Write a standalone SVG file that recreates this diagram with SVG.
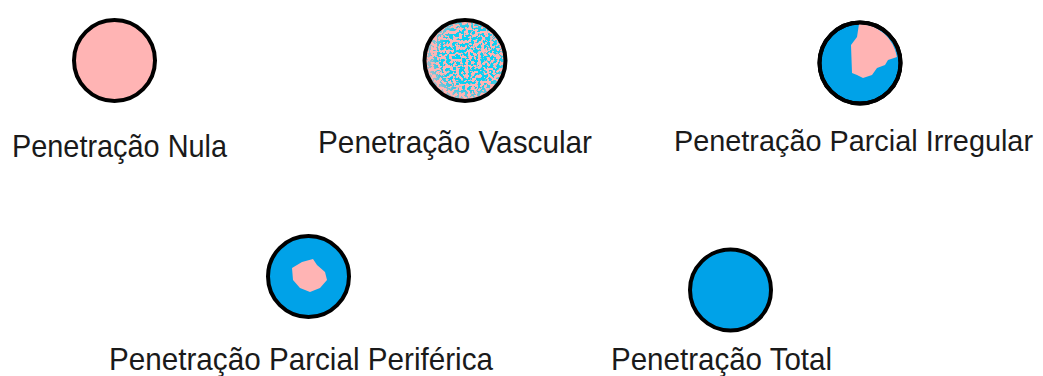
<svg xmlns="http://www.w3.org/2000/svg" width="1043" height="376" viewBox="0 0 1043 376">
<defs>
<style>
.ring{stroke:#000;stroke-width:4}
.pink{fill:#FFB4B4}
.blue{fill:#00A2E8}
.lbl{font-family:"Liberation Sans",Arial,sans-serif;font-size:32px;fill:#1a1a1a}
</style>
<filter id="speckle" x="0" y="0" width="1" height="1" filterUnits="objectBoundingBox">
<feTurbulence type="fractalNoise" baseFrequency="0.32" numOctaves="2" seed="11" result="n"/>
<feColorMatrix in="n" type="matrix" values="0 0 0 0 0  0 0 0 0 0.635  0 0 0 0 0.91  22 0 0 0 -10.6" result="b"/>
<feComposite in="b" in2="SourceGraphic" operator="in"/>
</filter>
<radialGradient id="dens" cx="0.56" cy="0.47" r="0.55">
<stop offset="0" stop-color="#fff" stop-opacity="1"/>
<stop offset="0.7" stop-color="#fff" stop-opacity="0.95"/>
<stop offset="1" stop-color="#fff" stop-opacity="0.35"/>
</radialGradient>
<mask id="dm"><circle cx="465" cy="60.5" r="39" fill="url(#dens)"/></mask>
</defs>
<rect width="1043" height="376" fill="#fff"/>

<g id="nula">
<circle cx="114.5" cy="60.5" r="40.5" class="pink ring"/>
<text class="lbl" x="12" y="157" textLength="215" lengthAdjust="spacingAndGlyphs">Penetração Nula</text>
</g>

<g id="vascular">
<circle cx="465" cy="60.5" r="40.5" class="pink"/>
<g mask="url(#dm)"><circle cx="465" cy="60.5" r="39" fill="#000" filter="url(#speckle)"/></g>
<circle cx="465" cy="60.5" r="40.5" class="ring" fill="none"/>
<text class="lbl" x="318" y="153" textLength="274" lengthAdjust="spacingAndGlyphs">Penetração Vascular</text>
</g>

<g id="parcial-irregular">
<circle cx="860" cy="63" r="40.5" class="blue ring"/>
<path class="pink" d="M859,24 A39,39 0 0 1 897,57 L888,60 L885,65 L877,68 L872,75 L863,78 L857,75 L852,73 L851,45 L857,37 Z"/>
<circle cx="860" cy="63" r="40.5" class="ring" fill="none"/>
<text class="lbl" style="font-size:29.2px" x="674" y="151" textLength="359" lengthAdjust="spacingAndGlyphs">Penetração Parcial Irregular</text>
</g>

<g id="parcial-periferica">
<circle cx="308.5" cy="276.5" r="40.5" class="blue ring"/>
<path class="pink" d="M302,262 L313,259 L317,265 L325,272 L327,280 L320,288 L310,292 L300,288 L293,280 L292,268 Z"/>
<text class="lbl" x="109" y="370" textLength="384" lengthAdjust="spacingAndGlyphs">Penetração Parcial Periférica</text>
</g>

<g id="total">
<circle cx="730.5" cy="290" r="40.5" class="blue ring"/>
<text class="lbl" x="611" y="370" textLength="221" lengthAdjust="spacingAndGlyphs">Penetração Total</text>
</g>
</svg>
